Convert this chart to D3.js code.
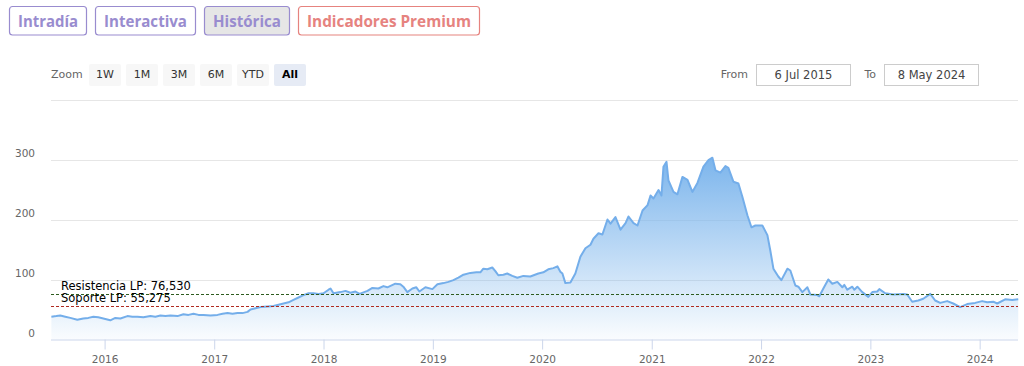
<!DOCTYPE html>
<html><head><meta charset="utf-8">
<script src="https://cdn.jsdelivr.net/npm/d3@7/dist/d3.min.js"></script>
<style>body{margin:0;background:#fff;} svg{display:block}</style>
</head><body>
<svg id="c" width="1024" height="366"></svg>
<script>
// ---- data ----
const dates = [2015.513,2015.558,2015.595,2015.640,2015.686,2015.750,2015.805,2015.851,2015.897,2015.942,2015.988,
2016.052,2016.098,2016.144,2016.208,2016.253,2016.299,2016.354,2016.418,2016.463,2016.509,2016.555,2016.601,2016.665,2016.719,2016.765,2016.811,2016.857,2016.902,2016.966,
2017.030,2017.076,2017.122,2017.167,2017.213,2017.259,2017.305,2017.332,2017.378,2017.424,2017.488,2017.542,2017.588,2017.634,2017.680,2017.725,2017.771,2017.817,2017.863,2017.908,2017.954,
2018.000,2018.046,2018.064,2018.091,2018.155,2018.201,2018.246,2018.292,2018.329,2018.402,2018.447,2018.502,2018.548,2018.584,2018.657,2018.703,2018.730,2018.767,2018.813,2018.849,2018.877,2018.932,2018.996,
2019.042,2019.097,2019.142,2019.188,2019.234,2019.280,2019.343,2019.398,2019.435,2019.462,2019.499,2019.544,2019.572,2019.599,2019.645,2019.681,2019.727,2019.773,2019.828,2019.892,2019.965,
2020.011,2020.056,2020.102,2020.139,2020.166,2020.185,2020.212,2020.258,2020.303,2020.349,2020.395,2020.441,2020.468,2020.514,2020.550,2020.596,2020.624,2020.669,2020.715,2020.761,2020.788,2020.834,2020.870,2020.916,2020.962,2020.989,
2021.016,2021.062,2021.089,2021.107,2021.135,2021.153,2021.199,2021.235,2021.281,2021.327,2021.372,2021.418,2021.473,2021.519,2021.555,2021.583,2021.628,2021.674,2021.701,2021.747,2021.793,2021.829,2021.875,2021.912,2021.948,
2022.012,2022.058,2022.085,2022.113,2022.158,2022.186,2022.241,2022.268,2022.314,2022.341,2022.378,2022.424,2022.451,2022.515,2022.533,2022.570,2022.615,2022.652,2022.698,2022.744,2022.762,2022.789,2022.835,2022.853,2022.881,2022.926,2022.981,
2023.018,2023.063,2023.082,2023.136,2023.209,2023.301,2023.337,2023.383,2023.438,2023.484,2023.548,2023.593,2023.639,2023.703,2023.758,2023.822,2023.886,2023.959,
2024.023,2024.069,2024.124,2024.160,2024.233,2024.297,2024.352];
const values = [38,39,40,38,36,33,35,36,38,37,35,
32,36,35,39,38,38,37,39,38,40,39,40,39,42,41,43,41,41,40,
41,43,44,43,44,44,46,50,52,54,55,56,58,60,62,66,70,74,77,77,76,
77,83,85,77,79,81,78,80,76,81,86,85,89,87,93,92,88,79,85,87,80,87,84,
92,94,96,99,103,108,111,112,112,118,117,120,114,107,108,110,106,103,106,105,110,
112,117,119,122,113,110,94,95,110,138,152,158,168,177,175,200,193,204,183,194,205,194,190,215,224,240,
235,249,240,288,296,265,246,242,271,266,246,261,288,299,303,282,278,289,286,263,260,238,207,187,190,
190,174,148,118,105,99,118,115,90,88,79,87,75,74,72,85,100,93,96,87,91,83,88,83,88,79,71,
79,80,84,77,75,76,75,63,65,68,76,65,61,64,60,54,59,61,
64,62,63,60,67,66,67];
const yTickValues = [0, 100, 200, 300];
const yGridValues = [100, 200, 300, 400];
const yearTicks = [2016, 2017, 2018, 2019, 2020, 2021, 2022, 2023, 2024];
const resistance = 76.530;
const support = 55.275;
const resistanceLabel = "Resistencia LP: 76,530";
const supportLabel = "Soporte LP: 55,275";
const tabLabels = ["Intradía", "Interactiva", "Histórica", "Indicadores Premium"];
const zoomLabels = ["1W", "1M", "3M", "6M", "YTD", "All"];
const fromLabel = "6 Jul 2015";
const toLabel = "8 May 2024";
const startDate = [2015, 6, 6];
const endDate = [2024, 4, 8];

// ---- helpers ----
function yd(y) {
  const yr = Math.floor(y);
  const s = new Date(yr, 0, 1), e = new Date(yr + 1, 0, 1);
  return new Date(+s + (y - yr) * (e - s));
}
const n = Math.min(dates.length, values.length);
const data = d3.range(n).map(i => ({ date: yd(dates[i]), v: values[i] }));

const svg = d3.select("#c");
const L = 51, R = 1018, T = 99.5, B = 339.5;

const x = d3.scaleTime().domain([new Date(...startDate), new Date(...endDate)]).range([L, R]);
const y = d3.scaleLinear().domain([0, 400]).range([B, T]);

// ---- tabs ----
const tabTextLen = [60, 83, 68, 164];
const tabFill = ["#fff", "#fff", "#e6e6e6", "#fff"];
const tabColor = ["#998ccf", "#998ccf", "#998ccf", "#e6837f"];
let tx = 9.5;
tabLabels.forEach((t, i) => {
  const w = tabTextLen[i] + 17;
  svg.append("rect").attr("x", tx).attr("y", 6.5).attr("width", w).attr("height", 28.5)
    .attr("rx", 3).attr("fill", tabFill[i]).attr("stroke", tabColor[i]).attr("stroke-width", 1.2);
  svg.append("text").attr("x", tx + w / 2).attr("y", 27)
    .attr("text-anchor", "middle").attr("font-family", "'Open Sans', 'Noto Sans', sans-serif")
    .attr("font-weight", 700).attr("font-size", 16).attr("fill", tabColor[i])
    .attr("textLength", tabTextLen[i]).attr("lengthAdjust", "spacingAndGlyphs").text(t);
  tx += w + 9;
});

// ---- range selector ----
const ff = "'DejaVu Sans', sans-serif";
svg.append("text").attr("x", 51).attr("y", 78).attr("font-family", ff).attr("font-size", 11)
  .attr("fill", "#666").text("Zoom");
zoomLabels.forEach((z, i) => {
  const bx = 89 + i * 37;
  const sel = z === "All";
  svg.append("rect").attr("x", bx).attr("y", 64).attr("width", 32).attr("height", 22).attr("rx", 2)
    .attr("fill", sel ? "#e6ebf5" : "#f7f7f7");
  svg.append("text").attr("x", bx + 16).attr("y", 78).attr("text-anchor", "middle")
    .attr("font-family", ff).attr("font-size", 11).attr("font-weight", sel ? "bold" : "normal")
    .attr("fill", sel ? "#000" : "#333").text(z);
});
function inputBox(label, val, labelEnd, bx) {
  svg.append("text").attr("x", labelEnd).attr("y", 78).attr("text-anchor", "end")
    .attr("font-family", ff).attr("font-size", 11).attr("fill", "#666").text(label);
  svg.append("rect").attr("x", bx).attr("y", 64.5).attr("width", 94).attr("height", 21)
    .attr("fill", "#fff").attr("stroke", "#cccccc");
  svg.append("text").attr("x", bx + 47).attr("y", 79).attr("text-anchor", "middle")
    .attr("font-family", ff).attr("font-size", 11.5).attr("fill", "#444").text(val);
}
inputBox("From", fromLabel, 748, 756.5);
inputBox("To", toLabel, 876, 884.5);

// ---- grid ----
svg.append("g").selectAll("line").data(yGridValues).join("line")
  .attr("x1", L).attr("x2", R).attr("y1", d => Math.round(y(d)) + 0.5).attr("y2", d => Math.round(y(d)) + 0.5)
  .attr("stroke", "#e6e6e6").attr("stroke-width", 1);

// ---- area ----
const defs = svg.append("defs");
const grad = defs.append("linearGradient").attr("id", "ag").attr("x1", 0).attr("y1", 0).attr("x2", 0).attr("y2", 1);
grad.append("stop").attr("offset", 0).attr("stop-color", "#7cb5ec").attr("stop-opacity", 1);
grad.append("stop").attr("offset", 1).attr("stop-color", "#7cb5ec").attr("stop-opacity", 0.04);

const area = d3.area().x(d => x(d.date)).y0(y(0)).y1(d => y(d.v));
const line = d3.line().x(d => x(d.date)).y(d => y(d.v));
svg.append("path").datum(data).attr("d", area).attr("fill", "url(#ag)");
svg.append("path").datum(data).attr("d", line).attr("fill", "none")
  .attr("stroke", "#74aeea").attr("stroke-width", 2).attr("stroke-linejoin", "round");

// ---- support / resistance ----
[[resistance, "#2e5c1f", resistanceLabel], [support, "#b02a20", supportLabel]].forEach(([v, c, lab]) => {
  const yy = Math.round(y(v)) + 0.5;
  svg.append("line").attr("x1", L).attr("x2", R).attr("y1", yy).attr("y2", yy)
    .attr("stroke", c).attr("stroke-width", 1).attr("stroke-dasharray", "3,2");
  svg.append("text").attr("x", 61).attr("y", y(v) - 4).attr("font-family", ff)
    .attr("font-size", 11.5).attr("fill", "#000").text(lab);
});

// ---- axes ----
const xAxis = d3.axisBottom(x).tickValues(yearTicks.map(yy => new Date(yy, 0, 1)))
  .tickFormat(d3.timeFormat("%Y")).tickSize(10).tickPadding(6);
const gx = svg.append("g").attr("transform", `translate(0,${B})`).call(xAxis);
gx.select(".domain").attr("stroke", "#ccd6eb").attr("d", `M${L},0.5H${R}`);
gx.selectAll(".tick line").attr("stroke", "#ccd6eb");
gx.selectAll(".tick text").attr("font-family", ff).attr("font-size", 10.5).attr("fill", "#666");

const yAxis = d3.axisLeft(y).tickValues(yTickValues).tickSize(0).tickPadding(0);
const gy = svg.append("g").attr("transform", `translate(35,0)`).call(yAxis);
gy.select(".domain").remove();
gy.selectAll(".tick text").attr("font-family", ff).attr("font-size", 10.5).attr("fill", "#666")
  .attr("dy", "-0.25em").attr("x", 0);
</script>
</body></html>
